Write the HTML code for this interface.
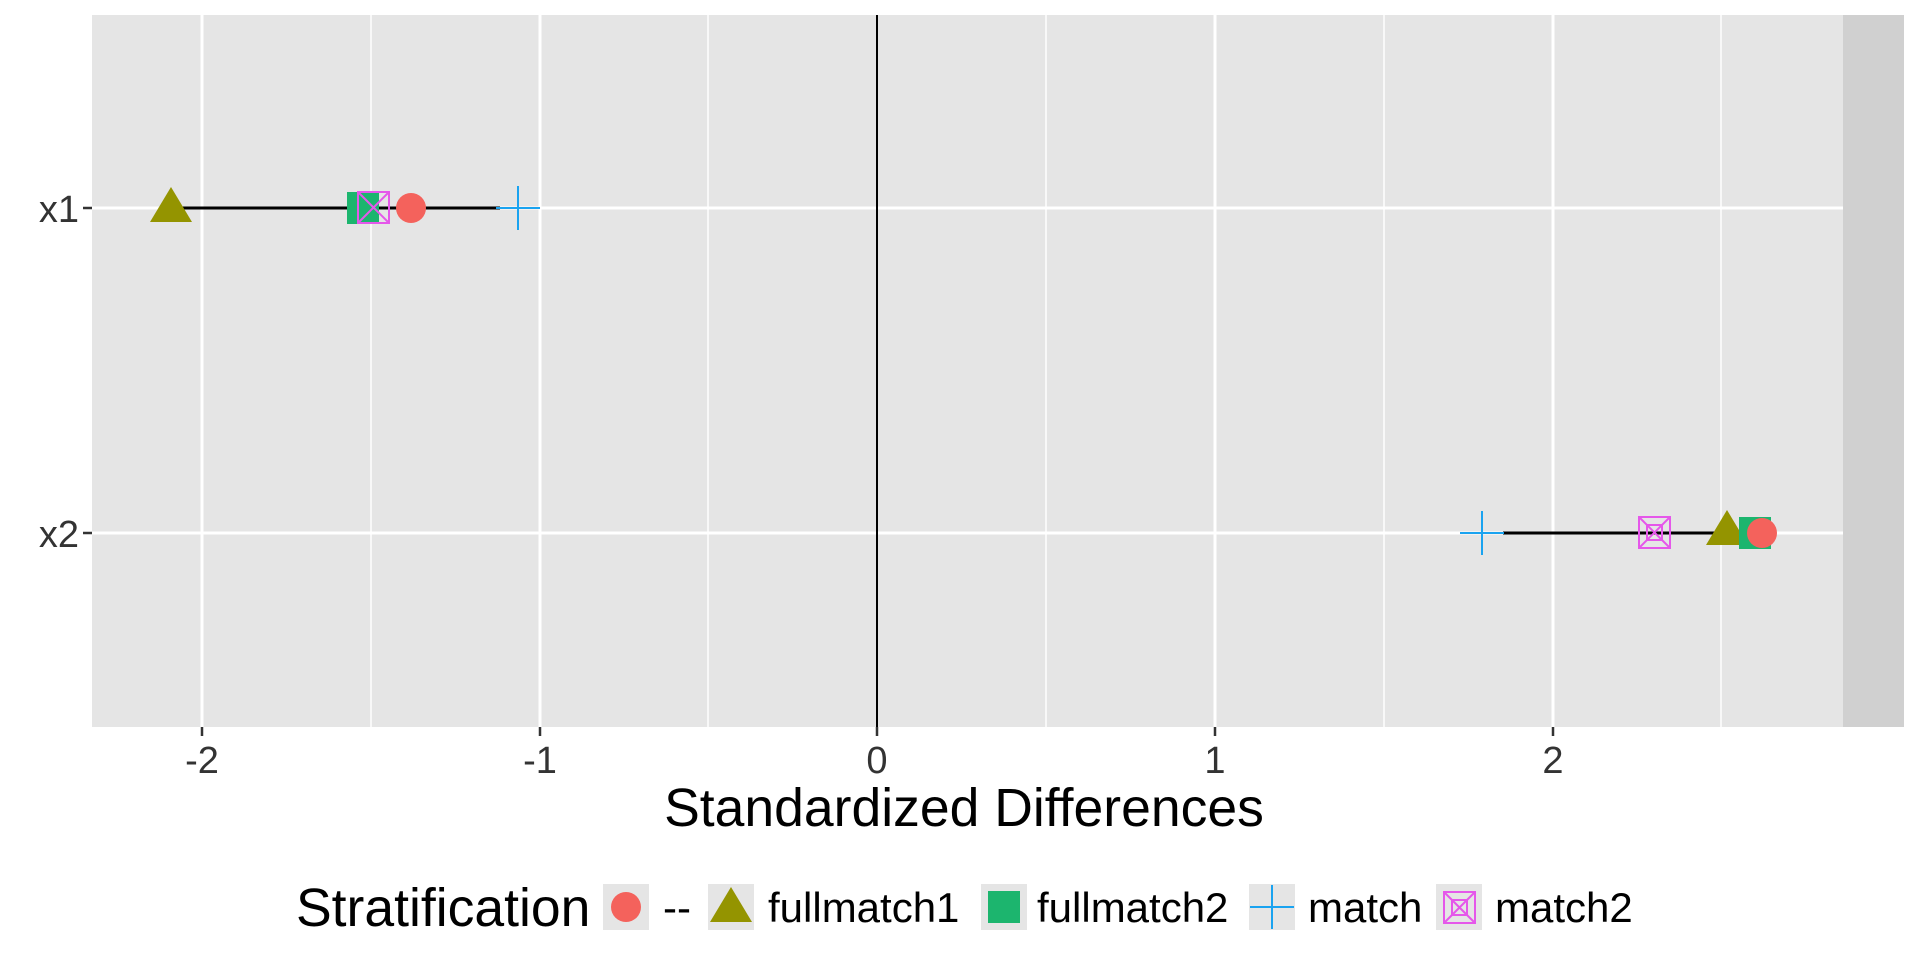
<!DOCTYPE html>
<html><head><style>body{margin:0;background:#fff}svg{display:block}text{font-family:"Liberation Sans",sans-serif}</style></head><body>
<svg width="1920" height="960" xmlns="http://www.w3.org/2000/svg">
<rect x="92" y="15" width="1812" height="712" fill="#e5e5e5"/>
<rect x="1843" y="15" width="61" height="712" fill="#d0d0d0"/>
<g stroke="#fff" stroke-width="1.5">
<line x1="371" y1="15" x2="371" y2="727"/><line x1="708" y1="15" x2="708" y2="727"/><line x1="1046" y1="15" x2="1046" y2="727"/><line x1="1384" y1="15" x2="1384" y2="727"/><line x1="1721" y1="15" x2="1721" y2="727"/>
</g>
<g stroke="#fff" stroke-width="3">
<line x1="202" y1="15" x2="202" y2="727"/><line x1="540" y1="15" x2="540" y2="727"/><line x1="1215" y1="15" x2="1215" y2="727"/><line x1="1553" y1="15" x2="1553" y2="727"/>
<line x1="92" y1="208" x2="1843" y2="208"/><line x1="92" y1="533" x2="1843" y2="533"/>
</g>
<line x1="877" y1="15" x2="877" y2="727" stroke="#000" stroke-width="2"/>
<g stroke="#333" stroke-width="2.5">
<line x1="83" y1="208" x2="92" y2="208"/><line x1="83" y1="533" x2="92" y2="533"/>
<line x1="202" y1="727" x2="202" y2="736"/><line x1="540" y1="727" x2="540" y2="736"/><line x1="877" y1="727" x2="877" y2="736"/><line x1="1215" y1="727" x2="1215" y2="736"/><line x1="1553" y1="727" x2="1553" y2="736"/>
</g>
<g fill="#333" font-size="38">
<text x="79" y="222" text-anchor="end">x1</text><text x="79" y="547" text-anchor="end">x2</text>
<g text-anchor="middle"><text x="202" y="773">-2</text><text x="540" y="773">-1</text><text x="877" y="773">0</text><text x="1215" y="773">1</text><text x="1553" y="773">2</text></g>
</g>
<text x="964" y="826" font-size="53.5" text-anchor="middle">Standardized Differences</text>
<line x1="171" y1="208" x2="500" y2="208" stroke="#000" stroke-width="3"/>
<line x1="1503" y1="533" x2="1762" y2="533" stroke="#000" stroke-width="3"/>
<polygon points="171,187 150,222 192,222" fill="#949400"/>
<rect x="347" y="192" width="32" height="32" fill="#1cb56e"/>
<g stroke="#e557ea" stroke-width="2" fill="none"><rect x="358" y="192" width="31" height="31"/><line x1="358" y1="192" x2="389" y2="223"/><line x1="389" y1="192" x2="358" y2="223"/></g>
<circle cx="411" cy="208" r="15" fill="#f4625c"/>
<g stroke="#1aa3f0" stroke-width="2"><line x1="496" y1="208" x2="540" y2="208"/><line x1="518" y1="186" x2="518" y2="230"/></g>
<g stroke="#1aa3f0" stroke-width="2"><line x1="1460" y1="533" x2="1504" y2="533"/><line x1="1482" y1="511" x2="1482" y2="555"/></g>
<g stroke="#e557ea" stroke-width="2" fill="none"><rect x="1639" y="517" width="31" height="31"/><rect x="1647" y="525" width="15" height="15"/><line x1="1639" y1="517" x2="1670" y2="548"/><line x1="1670" y1="517" x2="1639" y2="548"/></g>
<polygon points="1727,510 1706,545 1748,545" fill="#949400"/>
<rect x="1739" y="517" width="32" height="32" fill="#1cb56e"/>
<circle cx="1762" cy="533" r="15" fill="#f4625c"/>
<text x="296" y="926" font-size="53.5">Stratification</text>
<g fill="#e5e5e5"><rect x="603" y="884" width="46" height="46"/><rect x="708" y="884" width="46" height="46"/><rect x="981" y="884" width="46" height="46"/><rect x="1249" y="884" width="46" height="46"/><rect x="1436" y="884" width="46" height="46"/></g>
<circle cx="626" cy="907" r="15" fill="#f4625c"/>
<polygon points="731,887 710,922 752,922" fill="#949400"/>
<rect x="988" y="891" width="32" height="32" fill="#1cb56e"/>
<g stroke="#1aa3f0" stroke-width="2"><line x1="1250" y1="907" x2="1294" y2="907"/><line x1="1272" y1="885" x2="1272" y2="929"/></g>
<g stroke="#e557ea" stroke-width="2" fill="none"><rect x="1444" y="892" width="31" height="31"/><rect x="1452" y="900" width="15" height="15"/><line x1="1444" y1="892" x2="1475" y2="923"/><line x1="1475" y1="892" x2="1444" y2="923"/></g>
<g font-size="42"><text x="663" y="922">--</text><text x="768" y="922">fullmatch1</text><text x="1037" y="922">fullmatch2</text><text x="1308" y="922">match</text><text x="1495" y="922">match2</text></g>
</svg>
</body></html>
